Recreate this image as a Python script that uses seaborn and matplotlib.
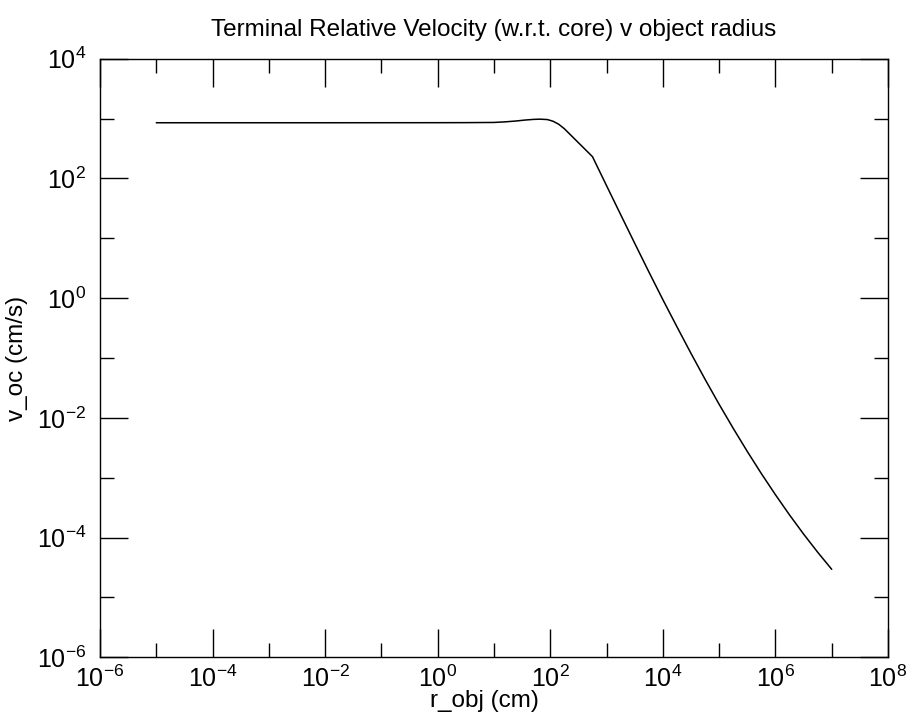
import numpy as np
import pandas as pd
import matplotlib
matplotlib.use("Agg")
import matplotlib.pyplot as plt
import seaborn as sns
from matplotlib.ticker import FixedLocator, FuncFormatter, NullFormatter

# data (log10 exponents)
log_r_obj = [-5, -2, 0, 0.5, 1.0, 1.2, 1.4, 1.55, 1.7, 1.82, 1.95, 2.05, 2.15, 2.25, 2.4, 2.55, 2.75,
             3.0, 3.25, 3.5, 3.75, 4.0, 4.25, 4.5, 4.75, 5.0, 5.25, 5.5, 5.75,
             6.0, 6.25, 6.5, 6.75, 7.0]
log_v_oc = [2.93, 2.93, 2.931, 2.932, 2.935, 2.945, 2.96, 2.975, 2.986, 2.99, 2.983, 2.955, 2.905, 2.83,
            2.69, 2.55, 2.363,
            1.878, 1.396, 0.916, 0.441, -0.025, -0.478, -0.923, -1.356, -1.774, -2.175, -2.561, -2.931,
            -3.284, -3.621, -3.941, -4.244, -4.53]
x_major_exp = [-6, -4, -2, 0, 2, 4, 6, 8]
x_minor_exp = [-5, -3, -1, 1, 3, 5, 7]
y_major_exp = [-6, -4, -2, 0, 2, 4]
y_minor_exp = [-5, -3, -1, 1, 3]

title = "Terminal Relative Velocity (w.r.t. core) v object radius"
xlabel = "r_obj (cm)"
ylabel = "v_oc (cm/s)"

df = pd.DataFrame({"r_obj": 10.0 ** np.array(log_r_obj),
                   "v_oc": 10.0 ** np.array(log_v_oc)})

sns.set_style("white")
plt.rcParams["font.family"] = ["Liberation Sans", "DejaVu Sans"]
plt.rcParams["mathtext.fontset"] = "custom"
plt.rcParams["mathtext.rm"] = "Liberation Sans"
plt.rcParams["mathtext.it"] = "Liberation Sans:italic"
plt.rcParams["mathtext.bf"] = "Liberation Sans:bold"
for k in ["text.color", "axes.labelcolor", "xtick.color", "ytick.color", "axes.edgecolor"]:
    plt.rcParams[k] = "black"

fig = plt.figure(figsize=(9.09, 7.24), dpi=100)
ax = fig.add_axes([100 / 909, 1 - 657.3 / 724, 788 / 909, 598.6 / 724])

sns.lineplot(data=df, x="r_obj", y="v_oc", color="black", linewidth=1.1, ax=ax)

ax.set_xscale("log")
ax.set_yscale("log")
ax.set_xlim(10.0 ** x_major_exp[0], 10.0 ** x_major_exp[-1])
ax.set_ylim(10.0 ** y_major_exp[0], 10.0 ** y_major_exp[-1])

def fmt(v, pos):
    e = int(round(np.log10(v)))
    return r"$\mathregular{10^{%d}}$" % e

ax.xaxis.set_major_locator(FixedLocator([10.0 ** e for e in x_major_exp]))
ax.xaxis.set_minor_locator(FixedLocator([10.0 ** e for e in x_minor_exp]))
ax.yaxis.set_major_locator(FixedLocator([10.0 ** e for e in y_major_exp]))
ax.yaxis.set_minor_locator(FixedLocator([10.0 ** e for e in y_minor_exp]))
ax.xaxis.set_major_formatter(FuncFormatter(fmt))
ax.yaxis.set_major_formatter(FuncFormatter(fmt))
ax.xaxis.set_minor_formatter(NullFormatter())
ax.yaxis.set_minor_formatter(NullFormatter())

ax.tick_params(which="both", direction="in", top=True, right=True, bottom=True, left=True,
               color="black", width=1.0, labelcolor="black")
ax.tick_params(which="major", length=20, labelsize=18)
ax.tick_params(axis="x", which="major", pad=6)
ax.tick_params(axis="y", which="major", pad=10)
ax.tick_params(which="minor", length=10)
for s in ax.spines.values():
    s.set_color("black")
    s.set_linewidth(1.0)

ax.set_title(title, fontsize=17.5, pad=16, color="black")
ax.set_xlabel(xlabel, fontsize=17.5, labelpad=1, color="black")
ax.xaxis.set_label_coords(0.488, -0.055)
ax.set_ylabel(ylabel, fontsize=17.5, labelpad=6, color="black")

fig.savefig("out.png", dpi=100, facecolor="white")
